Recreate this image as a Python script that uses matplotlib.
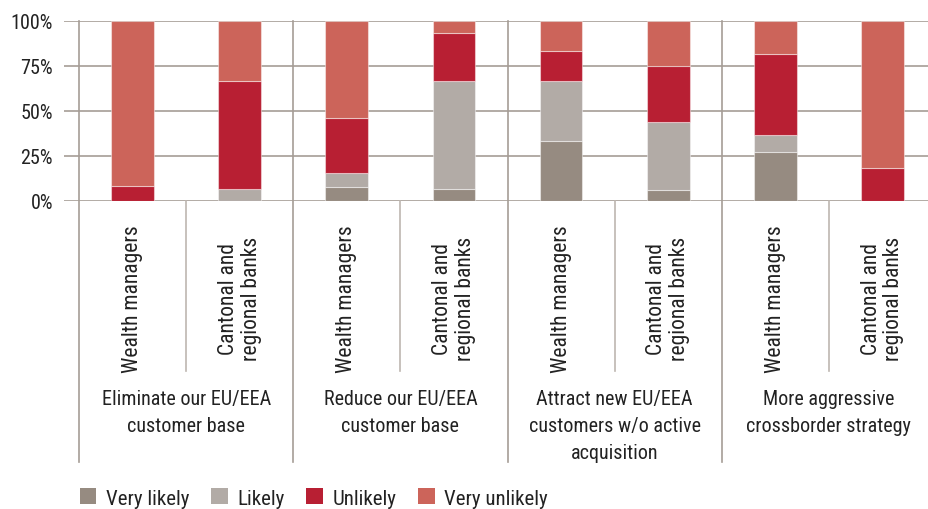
import numpy as np
import matplotlib
matplotlib.use('Agg')
import matplotlib.pyplot as plt
from matplotlib.patches import Patch

plt.rcParams['font.family'] = ['Roboto Condensed', 'Liberation Sans', 'DejaVu Sans']

groups = ['Eliminate our EU/EEA\ncustomer base',
          'Reduce our EU/EEA\ncustomer base',
          'Attract new EU/EEA\ncustomers w/o active\nacquisition',
          'More aggressive\ncrossborder strategy']
respondents = ['Wealth managers', 'Cantonal and\nregional banks']
answers = ['Very likely', 'Likely', 'Unlikely', 'Very unlikely']
colors = ['#968b81', '#b2aba6', '#b81f33', '#cc645a']

# shares in percent, one entry per bar (group x respondent)
very_likely = [0.0, 0.0, 7.7, 6.7, 33.3, 6.25, 27.3, 0.0]
likely = [0.0, 6.7, 7.7, 60.0, 33.3, 37.5, 9.1, 0.0]
unlikely = [8.3, 60.0, 30.8, 26.7, 16.7, 31.25, 45.5, 18.3]
very_unlikely = [91.7, 33.3, 53.8, 6.6, 16.7, 25.0, 18.1, 81.7]

series = [very_likely, likely, unlikely, very_unlikely]
txt_col = '#222222'

fig = plt.figure(figsize=(9.29, 5.10), dpi=100)
ax = fig.add_axes([64 / 929, 1 - 202 / 510, 1 - 64 / 929, 180 / 510])

x = np.arange(len(very_likely))
bottom = np.zeros(len(x))
for vals, col in zip(series, colors):
    ax.bar(x, vals, width=0.4, bottom=bottom, color=col,
           edgecolor=(1, 1, 1, 0.45), linewidth=0.8, zorder=3)
    bottom += np.array(vals)

line_col = '#a59d96'
ax.set_xlim(-0.5 - 15 / 107, 7.5 - 7 / 107)
ax.set_ylim(0, 100)
ax.set_yticks([0, 25, 50, 75, 100])
ax.set_yticklabels(['0%', '25%', '50%', '75%', '100%'], fontsize=14.5, color=txt_col)
ax.tick_params(axis='y', length=0, pad=8)
ax.set_xticks([])
for s in ax.spines.values():
    s.set_visible(False)
for yv in [0, 25, 50, 75, 100]:
    ax.axhline(yv, color=line_col, lw=1.2, zorder=1)

# group separators run from the top of the chart down past the labels
for g in range(len(groups)):
    xb = 2 * g - 0.5
    ax.plot([xb, xb], [100, -145], color=line_col, lw=1.2, clip_on=False, zorder=1)
    ax.plot([xb + 1, xb + 1], [0, -94.5], color='#bdb6b0', lw=1.2, clip_on=False, zorder=1)

    for k, name in enumerate(respondents):
        ax.text(2 * g + k, -54, name, rotation=90, ha='center', va='center',
                fontsize=15.5, color=txt_col, linespacing=1.1)
    ax.text(2 * g + 0.5, -104.5, groups[g], ha='center', va='top',
            fontsize=14.5, color=txt_col, linespacing=1.52)

handles = [Patch(facecolor=c, edgecolor='none') for c in colors]
fig.legend(handles, answers, loc='center left', bbox_to_anchor=(61 / 929, 1 - 499 / 510),
           ncol=4, frameon=False, fontsize=15, handlelength=0.8, handleheight=0.8,
           handletextpad=0.45, columnspacing=1.05, labelcolor=txt_col)

fig.savefig('out.png', dpi=100)
